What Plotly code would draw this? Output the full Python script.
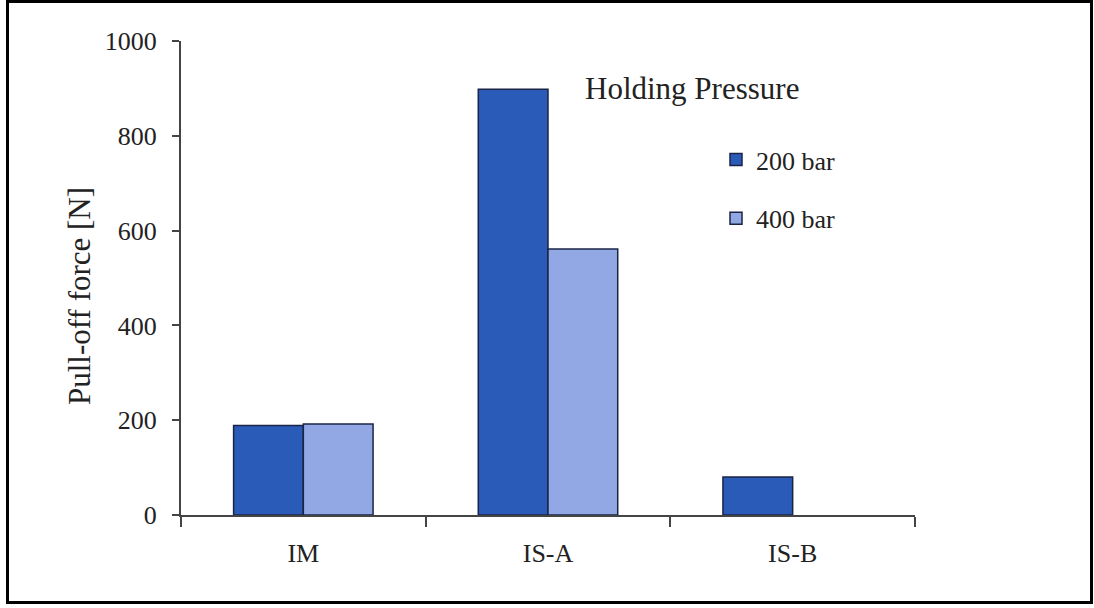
import plotly.graph_objects as go

# Pull-off force by process, grouped by holding pressure
processes = ["IM", "IS-A", "IS-B"]
force_200bar = [189, 898, 80]
force_400bar = [192, 561, None]
y_ticks = [0, 200, 400, 600, 800, 1000]

FONT = "Liberation Serif, Times New Roman, serif"
TEXT = "#222222"
DARK = "#2B5BB8"
LIGHT = "#91A8E4"
EDGE = "#1B2444"

fig = go.Figure()
fig.add_trace(go.Bar(
    x=processes, y=force_200bar, name="200 bar", legendgroup="a",
    marker=dict(color=DARK, line=dict(color=EDGE, width=1.5)),
))
fig.add_trace(go.Bar(
    x=processes, y=force_400bar, name="400 bar", legendgroup="b",
    marker=dict(color=LIGHT, line=dict(color=EDGE, width=1.5)),
))

# plot area spans 181..915 px horizontally and 41..515 px vertically
L, R, T, B = 181, 915, 41, 515
W, H = R - L, B - T


def px_x(px):
    return (px - L) / W


def px_y(py):
    return (B - py) / H


fig.update_layout(
    width=1094, height=608,
    margin=dict(l=L, r=1094 - R, t=T, b=608 - B, autoexpand=False),
    paper_bgcolor="white", plot_bgcolor="white",
    font=dict(family=FONT, color=TEXT, size=26),
    barmode="group", bargap=0.43, bargroupgap=0,
    showlegend=True,
    legend=dict(
        x=px_x(716), y=px_y(136), xanchor="left", yanchor="top",
        font=dict(family=FONT, size=26, color=TEXT),
        bgcolor="rgba(0,0,0,0)", itemwidth=30, tracegroupgap=22,
        traceorder="grouped",
    ),
    annotations=[
        dict(
            text="Holding Pressure", xref="paper", yref="paper",
            x=px_x(692), y=px_y(88), xanchor="center", yanchor="middle",
            showarrow=False, font=dict(family=FONT, size=31, color=TEXT),
        ),
        dict(
            text="Pull-off force [N]", xref="paper", yref="paper",
            x=px_x(79), y=px_y(296), xanchor="center", yanchor="middle",
            textangle=-90, showarrow=False,
            font=dict(family=FONT, size=31, color=TEXT),
        ),
    ],
    shapes=[dict(
        type="rect", xref="paper", yref="paper",
        x0=px_x(7.5), x1=px_x(1091.5), y0=px_y(602.5), y1=px_y(1.5),
        line=dict(color="black", width=3), fillcolor="rgba(0,0,0,0)",
        layer="above",
    )],
)

fig.update_xaxes(
    showline=True, linecolor="#444444", linewidth=2,
    ticks="outside", tickson="boundaries", ticklen=10, tickwidth=2,
    tickcolor="#444444", showgrid=False, zeroline=False,
    tickfont=dict(family=FONT, size=26, color=TEXT), ticklabelstandoff=14,
)
fig.update_yaxes(
    range=[0, 1000], tickvals=y_ticks, ticktext=[str(v) for v in y_ticks],
    showline=True, linecolor="#444444", linewidth=2,
    ticks="outside", ticklen=7, tickwidth=2, tickcolor="#444444",
    showgrid=False, zeroline=False,
    tickfont=dict(family=FONT, size=26, color=TEXT), ticklabelstandoff=10,
)

fig.write_html("out.html")
